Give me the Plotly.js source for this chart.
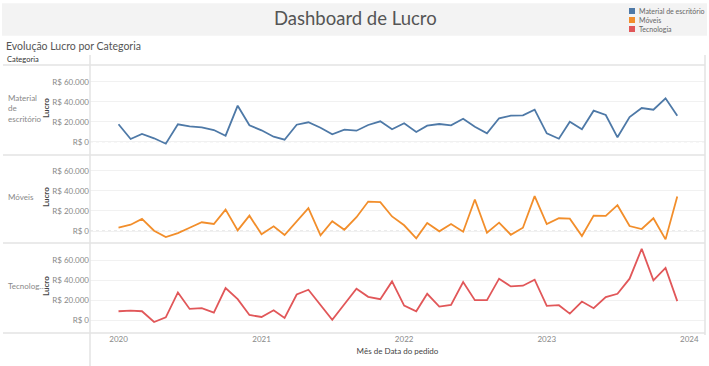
<!DOCTYPE html>
<html>
<head>
<meta charset="utf-8">
<script src="https://cdn.plot.ly/plotly-3.0.1.min.js"></script>
<style>
html,body{margin:0;padding:0;background:#fff;}
#chart{width:709px;height:366px;}
</style>
</head>
<body>
<div id="chart"></div>
<script>
// ---- data ----
var months = [
 "2020-01-01","2020-02-01","2020-03-01","2020-04-01","2020-05-01","2020-06-01","2020-07-01","2020-08-01","2020-09-01","2020-10-01","2020-11-01","2020-12-01",
 "2021-01-01","2021-02-01","2021-03-01","2021-04-01","2021-05-01","2021-06-01","2021-07-01","2021-08-01","2021-09-01","2021-10-01","2021-11-01","2021-12-01",
 "2022-01-01","2022-02-01","2022-03-01","2022-04-01","2022-05-01","2022-06-01","2022-07-01","2022-08-01","2022-09-01","2022-10-01","2022-11-01","2022-12-01",
 "2023-01-01","2023-02-01","2023-03-01","2023-04-01","2023-05-01","2023-06-01","2023-07-01","2023-08-01","2023-09-01","2023-10-01","2023-11-01","2023-12-01"
];
var categories = ["Material de escritório", "Móveis", "Tecnologia"];
var rowLabels = ["Material<br>de<br>escritório", "Móveis", "Tecnolog..."];
var colors = ["#4e79a7", "#f28e2b", "#e15759"];

var lucroMaterial = [17400,2700,7700,3400,-2000,17400,15400,14400,11700,6000,36000,16400,
  11400,5000,2000,17000,19400,14000,7400,12000,11000,16700,20400,12400,
  18400,9700,16000,17700,16400,23000,15000,8400,23400,26000,26400,32000,
  8400,3000,20000,12400,31000,26700,4400,24700,33700,32000,43400,26000];
var lucroMoveis = [3300,6300,12000,300,-6000,-2000,3300,8700,7000,21300,700,15300,
  -3300,4700,-4000,9300,22700,-4300,9700,1300,13700,29300,28700,14500,
  5700,-7300,8000,-300,7000,-700,31300,-1700,8300,-3700,3300,34700,
  7000,12700,12300,-5000,15300,15000,25700,5000,2000,12700,-8300,34300];
var lucroTecnologia = [9200,9800,9200,-1500,3200,27800,11500,12200,7800,32200,21200,5500,
  3500,10200,2500,25800,30500,15500,800,16200,31500,23500,21200,38800,
  14800,9200,26500,13800,15500,38200,20200,20200,41500,33800,34500,40500,
  14500,15200,6800,18800,12200,23200,26500,41500,71200,39800,52200,19200];
var yTickVals = [0, 20000, 40000, 60000];
var yTickText = ["R$ 0", "R$ 20.000", "R$ 40.000", "R$ 60.000"];
var xTickVals = ["2020-01-01","2021-01-01","2022-01-01","2023-01-01","2024-01-01"];
var xTickText = ["2020","2021","2022","2023","2024"];

// ---- geometry helpers (pixels -> paper) ----
var W = 709, H = 366;
function px(x){ return x / W; }
function py(y){ return 1 - y / H; }

var FONT = 'Lato, "Open Sans", sans-serif';
var series = [lucroMaterial, lucroMoveis, lucroTecnologia];
var yNames = ["y", "y2", "y3"];
var panels = [
  {top: 65,  bottom: 155, range: [-13300, 76700]},
  {top: 155, bottom: 243, range: [-11900, 75600]},
  {top: 243, bottom: 333, range: [-12400, 76900]}
];

var traces = series.map(function(vals, i){
  return {
    type: "scatter", mode: "lines",
    x: months, y: vals, name: categories[i],
    xaxis: "x", yaxis: yNames[i],
    line: {color: colors[i], width: 1.8},
    showlegend: false,
    hovertemplate: "%{x|%b %Y}<br>R$ %{y:,.0f}<extra>" + categories[i] + "</extra>"
  };
});

var layout = {
  width: W, height: H,
  margin: {l: 0, r: 0, t: 0, b: 0},
  paper_bgcolor: "#ffffff", plot_bgcolor: "rgba(0,0,0,0)",
  font: {family: FONT, color: "#666"},
  showlegend: false,
  xaxis: {
    type: "date", anchor: "y3",
    domain: [px(90), px(705)],
    range: ["2019-10-20", "2024-02-10"],
    tickvals: xTickVals, ticktext: xTickText,
    showgrid: false, zeroline: false, showline: false, ticks: "",
    tickfont: {size: 8, color: "#888"},
    title: {text: "Mês de Data do pedido", font: {size: 8, color: "#444"}, standoff: 5}
  },
  shapes: [], annotations: []
};

function ann(o){
  var a = {xref: "paper", yref: "paper", showarrow: false, xanchor: "center", yanchor: "middle"};
  for (var k in o) a[k] = o[k];
  layout.annotations.push(a);
}

panels.forEach(function(p, i){
  var key = i === 0 ? "yaxis" : "yaxis" + (i + 1);
  layout[key] = {
    domain: [py(p.bottom), py(p.top)],
    range: p.range, anchor: "x",
    tickvals: yTickVals, ticktext: yTickText,
    showgrid: true, gridcolor: "#f1f1f1", gridwidth: 1,
    zeroline: false, showline: false, ticks: "",
    tickfont: {size: 8, color: "#888"}
  };
  // dotted zero line
  layout.shapes.push({type: "line", xref: "paper", yref: yNames[i],
    x0: px(90), x1: px(705), y0: 0, y1: 0,
    line: {color: "#d6d6d6", width: 1, dash: "dot"}, layer: "below"});
  var mid = (p.top + p.bottom) / 2 - 2;
  ann({x: px(46), y: py(mid), text: "<b>Lucro</b>", textangle: -90,
    font: {size: 8, color: "#444"}});
  ann({x: px(6), y: py(mid), xanchor: "left", align: "left",
    text: rowLabels[i], font: {size: 8, color: "#888"}});
});

// header band
layout.shapes.push({type: "rect", xref: "paper", yref: "paper",
  x0: px(2), x1: px(707), y0: py(35.7), y1: py(3.3),
  fillcolor: "#f3f3f3", line: {width: 0}, layer: "below"});
// separators
[65, 155, 243, 333].forEach(function(y){
  layout.shapes.push({type: "line", xref: "paper", yref: "paper",
    x0: px(3), x1: px(705), y0: py(y), y1: py(y),
    line: {color: "#e3e3e3", width: 1.5}});
});
layout.shapes.push({type: "line", xref: "paper", yref: "paper",
  x0: px(90), x1: px(90), y0: py(55), y1: py(366),
  line: {color: "#e3e3e3", width: 1.5}});
layout.shapes.push({type: "line", xref: "paper", yref: "paper",
  x0: px(705), x1: px(705), y0: py(55), y1: py(335),
  line: {color: "#e3e3e3", width: 1.5}});

// title and headers
ann({x: px(355), y: py(18), text: "Dashboard de Lucro",
  font: {size: 18.5, color: "#555", family: FONT}});
ann({x: px(4), y: py(46), xanchor: "left", text: "Evolução Lucro por Categoria",
  font: {size: 10.5, color: "#555"}});
ann({x: px(5), y: py(60), xanchor: "left", text: "Categoria",
  font: {size: 7.5, color: "#333"}});

// color legend (top right)
categories.forEach(function(c, i){
  var yc = 11 + i * 9;
  layout.shapes.push({type: "rect", xref: "paper", yref: "paper",
    x0: px(629), x1: px(635), y0: py(yc + 3), y1: py(yc - 3),
    fillcolor: colors[i], line: {width: 0}});
  ann({x: px(637), y: py(yc), xanchor: "left", text: c,
    font: {size: 7, color: "#666"}});
});

Plotly.newPlot("chart", traces, layout, {displayModeBar: false, responsive: false});
</script>
</body>
</html>
